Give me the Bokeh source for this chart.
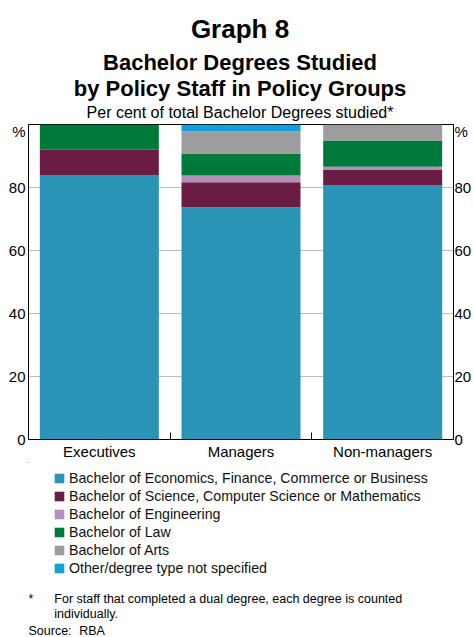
from bokeh.plotting import figure
from bokeh.layouts import column
from bokeh.models import (ColumnDataSource, Range1d, LinearAxis, FixedTicker,
                          Legend, LegendItem, Label)
from bokeh.embed import file_html
from bokeh.resources import INLINE

# ---- data ----
categories = ["Executives", "Managers", "Non-managers"]
series_names = [
    "Bachelor of Economics, Finance, Commerce or Business",
    "Bachelor of Science, Computer Science or Mathematics",
    "Bachelor of Engineering",
    "Bachelor of Law",
    "Bachelor of Arts",
    "Other/degree type not specified",
]
economics = [84.0, 73.7, 80.6]
science = [8.0, 8.0, 5.1]
engineering = [0.0, 2.1, 0.9]
law = [8.0, 7.0, 8.3]
arts = [0.0, 7.0, 5.1]
other = [0.0, 2.2, 0.5]
y_ticks = [0, 20, 40, 60, 80]
y_tick_labels = ["0", "20", "40", "60", "80"]
unit_label = "%"
unit_pos = 97.7

colors = ["#2994b5", "#6b1c42", "#b48fbc", "#007a3b", "#9d9d9d", "#10a0dc"]
FONT = "Liberation Sans"
W = 474
LEFT, RIGHT = 28, 18

keys = ["economics", "science", "engineering", "law", "arts", "other"]
xs = [i + 0.5 for i in range(len(categories))]
source = ColumnDataSource(dict(x=xs, economics=economics, science=science,
                               engineering=engineering, law=law, arts=arts,
                               other=other))


def blank(height, top):
    # pixel-like data coordinates: data x/y equal page pixels
    f = figure(width=W, height=height, output_backend="svg", toolbar_location=None,
               x_range=Range1d(LEFT, W - RIGHT), y_range=Range1d(top + height, top),
               x_axis_type=None, y_axis_type=None, title=None,
               min_border_left=LEFT, min_border_right=RIGHT,
               min_border_top=0, min_border_bottom=0,
               outline_line_color=None)
    f.grid.visible = False
    return f


def lab(f, text, x, y, size, bold=False, align="left"):
    f.add_layout(Label(x=x, y=y, text=text, text_font=FONT, text_font_size=size,
                       text_font_style="bold" if bold else "normal",
                       text_align=align, text_baseline="middle",
                       text_color="black"))


# ---- header ----
HEAD = 121
head = blank(HEAD, 0)
cx = 241
lab(head, "Graph 8", cx, 28, "26px", bold=True, align="center")
lab(head, "Bachelor Degrees Studied", cx, 61.5, "22px", bold=True, align="center")
lab(head, "by Policy Staff in Policy Groups", cx, 87.5, "22px", bold=True, align="center")
lab(head, "Per cent of total Bachelor Degrees studied*", cx, 112, "16px", align="center")

# ---- main chart ----
TOP, FRAME_H, BOTTOM = 3, 316, 22
p = figure(width=W, height=TOP + FRAME_H + BOTTOM, output_backend="svg",
           toolbar_location=None,
           x_range=Range1d(0, len(categories)), y_range=Range1d(0, 100),
           min_border_left=LEFT, min_border_right=RIGHT, min_border_top=TOP,
           min_border_bottom=BOTTOM, title=None)
p.outline_line_color = "black"
p.outline_line_width = 1

p.vbar_stack(keys, x="x", width=0.84, color=colors, line_color=None, source=source)

xa = p.xaxis[0]
xa.ticker = FixedTicker(ticks=xs, minor_ticks=[i for i in range(1, len(categories))])
xa.major_label_overrides = {x: c for x, c in zip(xs, categories)}
xa.major_tick_in = 0
xa.major_tick_out = 0
xa.minor_tick_in = 7
xa.minor_tick_out = 0
xa.minor_tick_line_color = "black"
xa.axis_line_color = "black"
xa.major_label_text_font = FONT
xa.major_label_text_font_size = "15px"
xa.major_label_text_color = "black"
xa.major_label_standoff = 3
p.xgrid.visible = False

label_ticks = y_ticks + [unit_pos]
overrides = {t: l for t, l in zip(y_ticks, y_tick_labels)}
overrides[unit_pos] = unit_label
ya = p.yaxis[0]
ra = LinearAxis()
p.add_layout(ra, "right")
for ax, so in ((ya, 3), (ra, 1)):
    ax.ticker = FixedTicker(ticks=label_ticks, minor_ticks=[])
    ax.major_label_overrides = overrides
    ax.major_tick_in = 0
    ax.major_tick_out = 0
    ax.minor_tick_in = 0
    ax.minor_tick_out = 0
    ax.axis_line_color = "black"
    ax.major_label_text_font = FONT
    ax.major_label_text_font_size = "15px"
    ax.major_label_text_color = "black"
    ax.major_label_standoff = so
p.ygrid.ticker = FixedTicker(ticks=y_ticks, minor_ticks=[])
p.ygrid.grid_line_color = "#bdbdbd"
p.ygrid.grid_line_width = 1

# ---- legend and notes ----
FOOT_TOP = HEAD + TOP + FRAME_H + BOTTOM
FOOT_H = 637 - FOOT_TOP
foot = blank(FOOT_H, FOOT_TOP)
# same stacked bars, lying outside this panel's visible range: used only as legend swatches
swatches = foot.vbar_stack(keys, x="x", width=0.84, color=colors, line_color=None,
                           source=source)
items = [LegendItem(label=n, renderers=[r]) for n, r in zip(series_names, swatches)]
legend_top = 470
row_h, gap = 16, 2
leg_h = 6 * row_h + 5 * gap
legend = Legend(items=items,
                location=(53 - LEFT, FOOT_H - (legend_top - FOOT_TOP) - leg_h),
                orientation="vertical",
                glyph_width=12, glyph_height=12, label_height=12, spacing=gap,
                label_standoff=4, padding=0, margin=0,
                border_line_color=None, background_fill_alpha=0,
                label_text_font=FONT, label_text_font_size="14.2px",
                label_text_color="#111111")
foot.add_layout(legend)

lab(foot, "*", 28, 598.5, "12.5px")
lab(foot, "For staff that completed a dual degree, each degree is counted", 54, 598.5, "12.5px")
lab(foot, "individually.", 54, 613.5, "12.5px")
lab(foot, "Source:", 28, 630, "12.5px")
lab(foot, "RBA", 79, 630, "12.5px")

layout = column(head, p, foot, spacing=0)
open("out.html", "w").write(file_html(layout, INLINE))
